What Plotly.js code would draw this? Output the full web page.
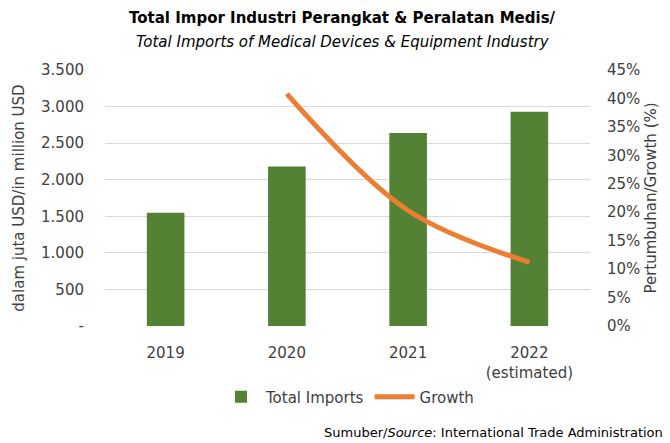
<!DOCTYPE html>
<html>
<head>
<meta charset="utf-8">
<script src="https://cdn.plot.ly/plotly-3.0.1.min.js"></script>
<style>
html,body{margin:0;padding:0;background:#fff;}
#chart{width:670px;height:443px;}
</style>
</head>
<body>
<div id="chart"></div>
<script>
const categories = ["2019", "2020", "2021", "2022<br>(estimated)"];
const totalImports = [1550, 2180, 2640, 2930];
const growthCategories = ["2020", "2021", "2022<br>(estimated)"];
const growth = [40.8, 20.3, 11.2];
const leftTickVals = [0, 500, 1000, 1500, 2000, 2500, 3000, 3500];
const leftTickText = ["-", "500", "1.000", "1.500", "2.000", "2.500", "3.000", "3.500"];
const rightTickVals = [0, 5, 10, 15, 20, 25, 30, 35, 40, 45];
const rightTickText = rightTickVals.map(v => v + "%");
const titleLine1 = "Total Impor Industri Perangkat & Peralatan Medis/";
const titleLine2 = "Total Imports of Medical Devices & Equipment Industry";

const FONT = "DejaVu Sans, sans-serif";
const TXT = "#404040";

const data = [
  {
    type: "bar",
    name: "Total Imports",
    x: categories,
    y: totalImports,
    width: 0.31,
    marker: {color: "#548235"},
    yaxis: "y"
  },
  {
    type: "scatter",
    mode: "lines",
    name: "Growth",
    x: growthCategories,
    y: growth,
    line: {color: "#ED7D31", width: 5, shape: "spline"},
    yaxis: "y2"
  }
];

const layout = {
  width: 670,
  height: 443,
  margin: {l: 105, r: 80, t: 70, b: 117},
  paper_bgcolor: "#fff",
  plot_bgcolor: "#fff",
  font: {family: FONT, color: TXT, size: 14},
  showlegend: true,
  xaxis: {
    type: "category",
    tickfont: {size: 15, color: TXT},
    showgrid: false,
    showline: false,
    ticks: "",
    ticklabelstandoff: 16,
    range: [-0.5, 3.5]
  },
  yaxis: {
    range: [0, 3500],
    tickvals: leftTickVals,
    ticktext: leftTickText,
    tickfont: {size: 15, color: TXT},
    gridcolor: "#d9d9d9",
    gridwidth: 1,
    zeroline: false,
    showline: false,
    ticks: "",
    ticklabelstandoff: 20,
    title: {text: "dalam juta USD/in million USD", font: {size: 15, color: TXT}, standoff: 12}
  },
  yaxis2: {
    overlaying: "y",
    side: "right",
    range: [0, 45],
    tickvals: rightTickVals,
    ticktext: rightTickText,
    tickfont: {size: 15, color: TXT},
    showgrid: false,
    zeroline: false,
    showline: false,
    ticks: "",
    ticklabelstandoff: 16,
    title: {text: "Pertumbuhan/Growth (%)", font: {size: 15, color: TXT}, standoff: 6}
  },
  legend: {
    orientation: "h",
    x: 0.5, xanchor: "center",
    y: -0.213, yanchor: "top",
    font: {size: 15, color: TXT},
    itemwidth: 40,
    tracegroupgap: 0
  },
  annotations: [
    {
      text: "<b>" + titleLine1 + "</b>",
      xref: "paper", yref: "paper",
      x: 0.49, y: 1.203, xanchor: "center", yanchor: "middle",
      showarrow: false,
      font: {size: 15, color: "#000"}
    },
    {
      text: "<i>" + titleLine2 + "</i>",
      xref: "paper", yref: "paper",
      x: 0.49, y: 1.109, xanchor: "center", yanchor: "middle",
      showarrow: false,
      font: {size: 15, color: "#000"}
    },
    {
      text: "Sumuber/<i>Source</i>: International Trade Administration",
      xref: "paper", yref: "paper",
      x: 1.155, y: -0.452,
      xanchor: "right", yanchor: "bottom",
      showarrow: false,
      font: {size: 13, color: "#000"}
    }
  ],
  bargap: 0.69
};

Plotly.newPlot("chart", data, layout, {displayModeBar: false, staticPlot: true});
</script>
</body>
</html>
